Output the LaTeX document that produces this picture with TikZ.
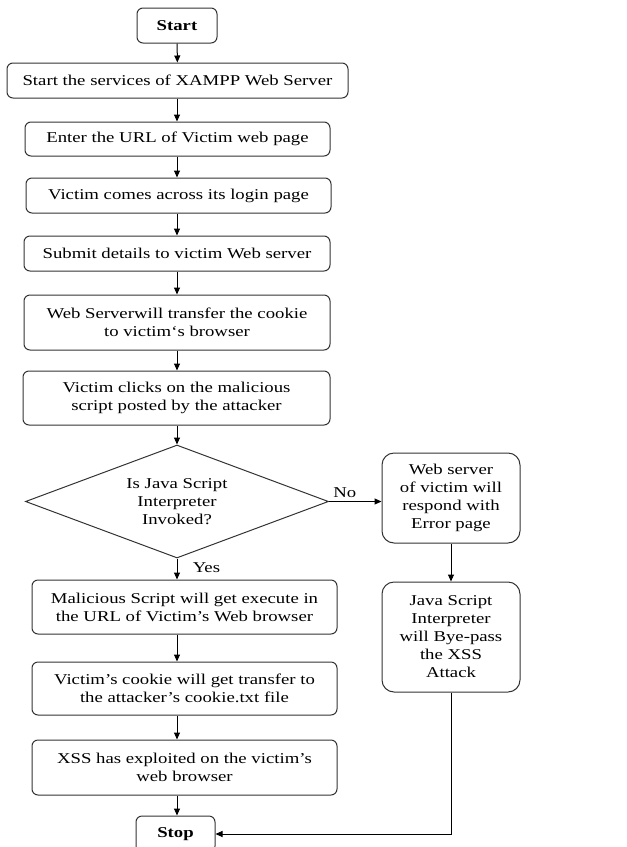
\documentclass[tikz,border=0pt]{standalone}
\usepackage{fontspec}
\setmainfont{Liberation Serif}[FakeStretch=1.25]
\usetikzlibrary{shapes.geometric,arrows.meta}
\tikzset{
  box/.style={draw=black!80,line width=1pt,rounded corners=6pt,align=center,inner sep=0pt},
  sidebox/.style={box,rounded corners=12pt},
  decision/.style={draw=black!80,line width=1pt,diamond,aspect=2.68,inner sep=0pt,align=center},
  flow/.style={-{Triangle[length=7pt,width=6pt]},line width=1pt}
}
\begin{document}
\begin{tikzpicture}[x=1pt,y=-1pt,font=\fontsize{15}{18}\selectfont]
\useasboundingbox (0,0) rectangle (627,847);

% Main column
\node[box,minimum width=80pt,minimum height=35pt] (start) at (177,25.5) {\bfseries Start};
\node[box,minimum width=341pt,minimum height=35pt] (xampp) at (177.5,80.5) {Start the services of XAMPP Web Server};
\node[box,minimum width=305pt,minimum height=34pt] (url) at (177.5,139) {Enter the URL of Victim web page};
\node[box,minimum width=305pt,minimum height=35pt] (login) at (178.5,195.5) {Victim comes across its login page};
\node[box,minimum width=306pt,minimum height=35pt] (submit) at (177,253.5) {Submit details to victim Web server};
\node[box,minimum width=306pt,minimum height=55pt] (cookie) at (177,322.5) {Web Serverwill transfer the cookie\\to victim‘s browser};
\node[box,minimum width=307pt,minimum height=54pt] (clicks) at (176.5,398) {Victim clicks on the malicious\\script posted by the attacker};

% Decision
\node[decision,minimum width=303pt,minimum height=113pt] (js) at (177,501.5) {Is Java Script\\Interpreter\\Invoked?};

% Yes branch
\node[box,minimum width=305pt,minimum height=54pt] (exec) at (184.5,607) {Malicious Script will get execute in\\the URL of Victim’s Web browser};
\node[box,minimum width=305pt,minimum height=53pt] (steal) at (184.5,688.5) {Victim’s cookie will get transfer to\\the attacker’s cookie.txt file};
\node[box,minimum width=305pt,minimum height=55pt] (xss) at (184.5,767.5) {XSS has exploited on the victim’s\\web browser};
\node[box,minimum width=79pt,minimum height=36pt] (stop) at (175.5,834) {\bfseries Stop};

% No branch
\node[sidebox,minimum width=138pt,minimum height=90pt] (error) at (451,498) {Web server\\of victim will\\respond with\\Error page};
\node[sidebox,minimum width=138pt,minimum height=110pt] (bypass) at (451,637) {Java Script\\Interpreter\\will Bye-pass\\the XSS\\Attack};

% Arrows
\draw[flow] (start) -- (xampp);
\draw[flow] (xampp.south -| start) -- (url.north -| start);
\draw[flow] (url.south -| start) -- (login.north -| start);
\draw[flow] (login.south -| start) -- (submit.north -| start);
\draw[flow] (submit.south -| start) -- (cookie.north -| start);
\draw[flow] (cookie.south -| start) -- (clicks.north -| start);
\draw[flow] (clicks.south -| start) -- (js.north);
\draw[flow] (js.south) -- (exec.north -| start) node[pos=0.45,right=12pt] {Yes};
\draw[flow] (exec.south -| start) -- (steal.north -| start);
\draw[flow] (steal.south -| start) -- (xss.north -| start);
\draw[flow] (xss.south -| start) -- (stop.north -| start);
\draw[flow] (js.east) -- (js.east -| error.west) node[pos=0.3,above] {No};
\draw[flow] (error) -- (bypass);
\draw[flow] (bypass.south) |- (stop.east);
\end{tikzpicture}
\end{document}
